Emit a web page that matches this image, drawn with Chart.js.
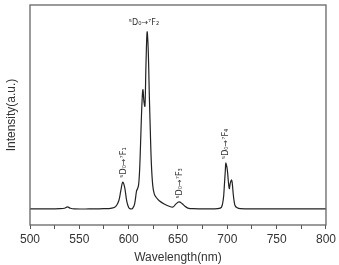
<!DOCTYPE html>
<html>
<head>
<meta charset="utf-8">
<script src="https://cdn.jsdelivr.net/npm/chart.js@4/dist/chart.umd.min.js"></script>
<style>
  html, body { margin: 0; padding: 0; background: #fff; }
  #wrap { width: 339px; height: 265px; }
</style>
</head>
<body>
<div id="wrap"><canvas id="spectrum"></canvas></div>
<script>
// Emission spectrum (Eu3+), intensity in arbitrary units
const wavelength = [500, 520, 530, 535, 538, 541, 545, 560, 575, 583, 587, 590, 592, 594, 596, 598, 600, 602, 604, 606, 608, 609, 610, 611, 612, 613, 614, 614.5, 615.5, 616.5, 617.5, 618.7, 619.8, 621, 622, 623, 624.4, 626, 628, 631, 636, 641, 645, 648, 651, 654, 657, 660, 665, 680, 690, 694, 696, 697, 698, 698.5, 700, 701, 702, 703, 704.3, 705, 706, 707, 708, 710, 713, 730, 800];
const intensity  = [7.3, 7.3, 7.4, 7.6, 8.2, 7.6, 7.3, 7.3, 7.4, 7.7, 8.5, 11, 15.5, 19.5, 17, 11, 8, 7.3, 7.6, 9.5, 15.5, 16.5, 18, 24, 36, 50, 60, 61.5, 56, 54, 72, 87.7, 80, 58, 42, 28, 18, 14, 12.5, 11, 9.5, 8.5, 8.2, 9.6, 10.5, 9.8, 8.5, 7.7, 7.4, 7.3, 7.4, 8.0, 12, 18, 25, 28.2, 25, 20, 16.5, 19, 20.5, 19, 14, 10.5, 8.7, 7.8, 7.4, 7.3, 7.3];

const xTicks = [500, 550, 600, 650, 700, 750, 800];

// transition labels: text, wavelength, intensity anchor, rotated?
const transLabels = ['\u2075D\u2080\u2192\u2077F\u2081', '\u2075D\u2080\u2192\u2077F\u2082', '\u2075D\u2080\u2192\u2077F\u2083', '\u2075D\u2080\u2192\u2077F\u2084'];
const transX = [595, 615.5, 651.5, 698.5];
const transY = [21.5, 92, 12, 30];
const transRotated = [true, false, true, true];

const points = wavelength.map((w, i) => ({ x: w, y: intensity[i] }));

const frameAndLabels = {
  id: 'frameAndLabels',
  afterDatasetsDraw(chart) {
    const { ctx, chartArea, scales } = chart;
    ctx.save();
    ctx.strokeStyle = '#666';
    ctx.lineWidth = 1.3;
    ctx.strokeRect(chartArea.left, chartArea.top, chartArea.right - chartArea.left, chartArea.bottom - chartArea.top);

    ctx.fillStyle = '#333';
    ctx.font = '8px "DejaVu Sans", sans-serif';
    ctx.textBaseline = 'middle';
    transLabels.forEach((t, i) => {
      const px = scales.x.getPixelForValue(transX[i]);
      const py = scales.y.getPixelForValue(transY[i]);
      ctx.save();
      ctx.translate(px, py);
      if (transRotated[i]) {
        ctx.rotate(-Math.PI / 2);
        ctx.textAlign = 'left';
      } else {
        ctx.textAlign = 'center';
      }
      ctx.fillText(t, 0, 0);
      ctx.restore();
    });
    ctx.restore();
  }
};

new Chart(document.getElementById('spectrum'), {
  type: 'line',
  data: {
    datasets: [{
      data: points,
      borderColor: '#222',
      borderWidth: 1.2,
      pointRadius: 0,
      tension: 0.35,
      fill: false
    }]
  },
  options: {
    responsive: true,
    maintainAspectRatio: false,
    animation: false,
    layout: { padding: { top: 5, right: 10, left: 0, bottom: 0 } },
    plugins: { legend: { display: false }, tooltip: { enabled: false } },
    scales: {
      x: {
        type: 'linear',
        min: 500,
        max: 800,
        afterFit(scale) { scale.height = 40; },
        afterBuildTicks(scale) {
          const t = [];
          for (let v = 500; v <= 800; v += 25) t.push({ value: v });
          scale.ticks = t;
        },
        border: { display: false },
        grid: { drawOnChartArea: false, tickLength: 4, color: '#555', lineWidth: 1 },
        ticks: {
          color: '#333',
          padding: 3,
          maxRotation: 0,
          autoSkip: false,
          font: { family: '"Liberation Sans", Arial, sans-serif', size: 12 },
          callback: v => (xTicks.includes(v) ? v : '')
        },
        title: {
          display: true,
          text: 'Wavelength(nm)',
          color: '#333',
          padding: { top: 0, bottom: 0 },
          font: { family: '"Liberation Sans", Arial, sans-serif', size: 12 }
        }
      },
      y: {
        type: 'linear',
        min: 0,
        max: 100,
        afterFit(scale) { scale.width = 30; },
        border: { display: false },
        grid: { display: false },
        ticks: { display: false },
        title: {
          display: true,
          text: 'Intensity(a.u.)',
          color: '#333',
          padding: { top: 4, bottom: 0 },
          font: { family: '"Liberation Sans", Arial, sans-serif', size: 12 }
        }
      }
    }
  },
  plugins: [frameAndLabels]
});
</script>
</body>
</html>
